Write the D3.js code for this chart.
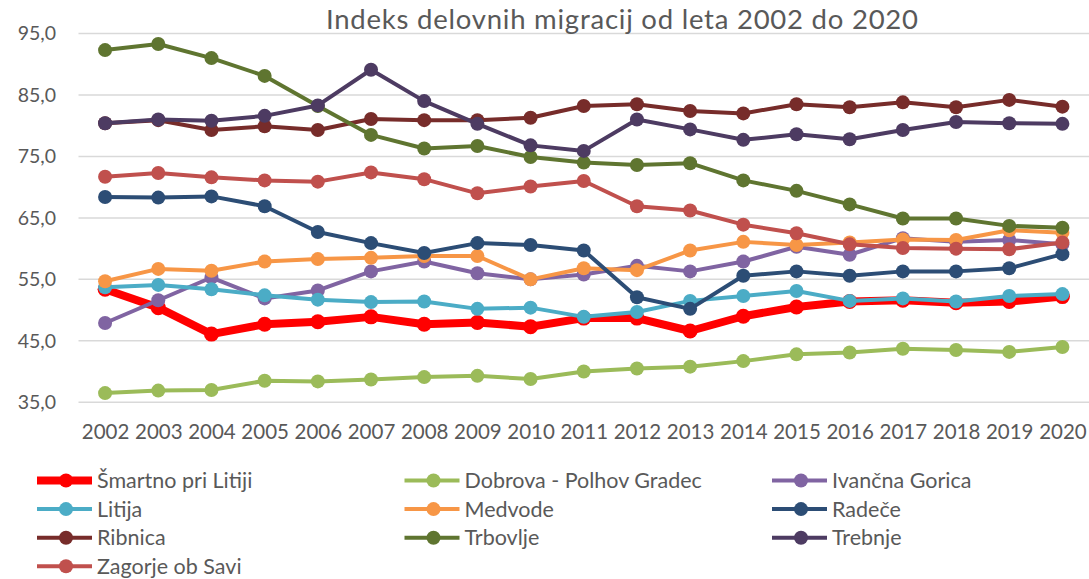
<!DOCTYPE html>
<html>
<head>
<meta charset="utf-8">
<script src="https://cdn.jsdelivr.net/npm/d3@7"></script>
<style>
  body { margin: 0; background: #fff; }
  text { font-family: Lato, "Open Sans", sans-serif; fill: #595959; }
</style>
</head>
<body>
<script>
var w = 1089,
  h = 579;

var years = ['2002', '2003', '2004', '2005', '2006', '2007', '2008', '2009', '2010', '2011',
  '2012', '2013', '2014', '2015', '2016', '2017', '2018', '2019', '2020'];

var yTicks = [35, 45, 55, 65, 75, 85, 95];

var names = ['Šmartno pri Litiji', 'Dobrova - Polhov Gradec', 'Ivančna Gorica', 'Litija', 'Medvode',
  'Radeče', 'Ribnica', 'Trbovlje', 'Trebnje', 'Zagorje ob Savi'];

var smartno = [53.4, 50.4, 46.1, 47.7, 48.1, 48.9, 47.7, 48.0, 47.3, 48.7, 48.7, 46.6, 49.0, 50.5, 51.4, 51.6, 51.2, 51.4, 52.2];
var dobrova = [36.5, 36.9, 37.0, 38.5, 38.4, 38.7, 39.1, 39.3, 38.8, 40.0, 40.5, 40.8, 41.7, 42.8, 43.1, 43.7, 43.5, 43.2, 44.0];
var ivancna = [47.9, 51.6, 55.3, 51.9, 53.2, 56.3, 57.9, 56.0, 55.0, 55.8, 57.2, 56.3, 57.9, 60.3, 59.0, 61.7, 61.1, 61.4, 60.7];
var litija = [53.7, 54.1, 53.4, 52.4, 51.7, 51.3, 51.4, 50.2, 50.4, 48.9, 49.7, 51.5, 52.3, 53.1, 51.5, 51.9, 51.4, 52.3, 52.6];
var medvode = [54.7, 56.7, 56.4, 57.9, 58.3, 58.5, 58.8, 58.8, 55.0, 56.8, 56.5, 59.7, 61.1, 60.6, 61.0, 61.5, 61.4, 63.0, 62.6];
var radece = [68.4, 68.3, 68.5, 66.9, 62.7, 60.9, 59.3, 60.9, 60.6, 59.7, 52.1, 50.2, 55.6, 56.3, 55.6, 56.3, 56.3, 56.8, 59.1];
var ribnica = [80.4, 80.9, 79.3, 79.9, 79.3, 81.1, 80.9, 80.9, 81.3, 83.2, 83.5, 82.4, 82.0, 83.5, 83.0, 83.8, 83.0, 84.2, 83.1];
var trbovlje = [92.3, 93.3, 91.0, 88.1, 83.2, 78.5, 76.3, 76.7, 74.9, 74.0, 73.6, 73.9, 71.1, 69.4, 67.2, 64.9, 64.9, 63.7, 63.4];
var trebnje = [80.4, 81.0, 80.8, 81.6, 83.3, 89.1, 84.0, 80.3, 76.8, 75.9, 81.0, 79.4, 77.7, 78.6, 77.8, 79.3, 80.6, 80.4, 80.3];
var zagorje = [71.7, 72.3, 71.6, 71.1, 70.9, 72.4, 71.3, 69.0, 70.1, 71.0, 66.9, 66.2, 63.9, 62.5, 60.7, 60.1, 60.0, 59.9, 61.0];

var colors = ['#ff0000', '#9bbb59', '#8064a2', '#4bacc6', '#f79646',
  '#2c4d75', '#772c2a', '#5f7530', '#4d3b62', '#c0504d'];

var series = [smartno, dobrova, ivancna, litija, medvode, radece, ribnica, trbovlje, trebnje, zagorje]
  .map(function (vals, i) {
    return { name: names[i], color: colors[i], thick: i === 0, values: vals };
  });

var svg = d3.select('body').append('svg')
  .attr('width', w)
  .attr('height', h);

var x = d3.scalePoint()
  .domain(years)
  .range([78.5, 1089])
  .padding(0.5);

var y = d3.scaleLinear()
  .domain([35, 95])
  .range([402.3, 33.5]);

// grid
svg.append('g')
  .selectAll('line')
  .data(yTicks)
  .enter()
  .append('line')
  .attr('x1', 78.5)
  .attr('x2', w)
  .attr('y1', function (d) { return y(d) })
  .attr('y2', function (d) { return y(d) })
  .attr('stroke', '#d9d9d9')
  .attr('stroke-width', 1.5);

// y axis
var yAxis = svg.append('g')
  .attr('transform', 'translate(56,0)')
  .call(d3.axisLeft(y).tickValues(yTicks).tickSize(0).tickPadding(0)
    .tickFormat(function (d) { return d3.format('.1f')(d).replace('.', ',') }));
yAxis.select('.domain').remove();
yAxis.selectAll('text')
  .attr('font-size', 19.5)
  .attr('font-family', null)
  .attr('fill', null);

// x axis
var xAxis = svg.append('g')
  .attr('transform', 'translate(0,424)')
  .call(d3.axisBottom(x).tickSize(0).tickPadding(0));
xAxis.select('.domain').remove();
xAxis.selectAll('text')
  .attr('font-size', 20.5)
  .attr('font-family', null)
  .attr('fill', null)
  .attr('dy', '0.71em');

// title
svg.append('text')
  .attr('x', 622)
  .attr('y', 28.5)
  .attr('text-anchor', 'middle')
  .attr('font-size', 27.5)
  .attr('textLength', 592)
  .attr('lengthAdjust', 'spacing')
  .text('Indeks delovnih migracij od leta 2002 do 2020');

var line = d3.line()
  .x(function (d, i) { return x(years[i]) })
  .y(function (d) { return y(d) });

var sGroups = svg.selectAll('g.series')
  .data(series)
  .enter()
  .append('g')
  .attr('class', 'series');

sGroups.append('path')
  .attr('d', function (d) { return line(d.values) })
  .attr('fill', 'none')
  .attr('stroke', function (d) { return d.color })
  .attr('stroke-width', function (d) { return d.thick ? 8 : 4 })
  .attr('stroke-linejoin', 'round');

sGroups.selectAll('circle')
  .data(function (d) { return d.values.map(function (v, i) { return { v: v, i: i, color: d.color, thick: d.thick } }) })
  .enter()
  .append('circle')
  .attr('cx', function (d) { return x(years[d.i]) })
  .attr('cy', function (d) { return y(d.v) })
  .attr('r', function (d) { return d.thick ? 7.5 : 7 })
  .attr('fill', function (d) { return d.color });

// legend
var legend = svg.selectAll('g.legend')
  .data(series)
  .enter()
  .append('g')
  .attr('class', 'legend')
  .attr('transform', function (d, i) {
    return 'translate(' + (37 + (i % 3) * 367.5) + ',' + (480.5 + Math.floor(i / 3) * 28.6) + ')';
  });

legend.append('line')
  .attr('x1', 0)
  .attr('x2', 55)
  .attr('stroke', function (d) { return d.color })
  .attr('stroke-width', function (d) { return d.thick ? 8 : 4 });

legend.append('circle')
  .attr('cx', 29)
  .attr('r', 7)
  .attr('fill', function (d) { return d.color });

legend.append('text')
  .attr('x', 60)
  .attr('dy', '0.35em')
  .attr('font-size', 21.5)
  .text(function (d) { return d.name });
</script>
</body>
</html>
